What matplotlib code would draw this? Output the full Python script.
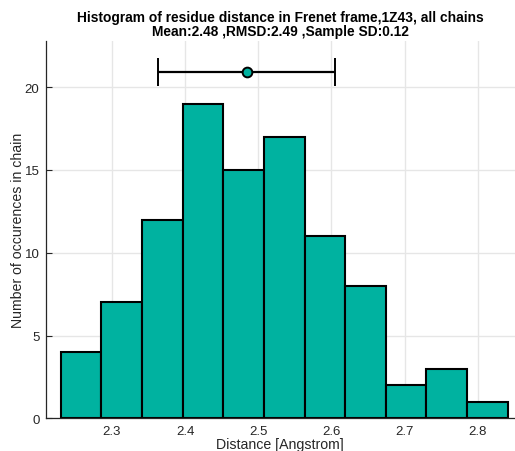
import matplotlib
matplotlib.use('Agg')

import matplotlib.pyplot as plt
import numpy as np

# Histogram of residue distances (Frenet frame, 1Z43)
bin_edges = [2.2300, 2.2856, 2.3411, 2.3967, 2.4522, 2.5078,
             2.5633, 2.6189, 2.6744, 2.7300, 2.7856, 2.8411]
counts = [4, 7, 12, 19, 15, 17, 11, 8, 2, 3, 1]
mean_dist = 2.484
rmsd_dist = 2.49
sample_sd = 0.121
x_ticks = [2.3, 2.4, 2.5, 2.6, 2.7, 2.8]
y_ticks = [0, 5, 10, 15, 20]

BAR_COLOR = "#00b2a0"
TEXT_COLOR = "#262626"

plt.rcParams['font.family'] = ['Liberation Sans', 'DejaVu Sans']

fig = plt.figure(figsize=(5.15, 4.52), dpi=100)
ax = fig.add_axes([0.0887, 0.0723, 0.9113, 0.8354])

edges = np.array(bin_edges)
widths = np.diff(edges)
ax.bar(edges[:-1], counts, width=widths, align='edge',
       color=BAR_COLOR, edgecolor='black', linewidth=1.5, zorder=2)

# Mean +/- sample SD drawn above the tallest bar
y_err = max(counts) * 1.1
ax.errorbar([mean_dist], [y_err], xerr=[sample_sd], fmt='o',
            color='black', ecolor='black', elinewidth=1.6, capsize=10,
            capthick=1.6, markersize=7, markerfacecolor=BAR_COLOR,
            markeredgecolor='black', markeredgewidth=1.4, zorder=3)

ax.set_xlim(2.2095, 2.851)
ax.set_ylim(0, max(counts) * 1.2)
ax.set_xticks(x_ticks)
ax.set_yticks(y_ticks)
ax.grid(True, color='#e6e6e6', linewidth=1.0, zorder=0)
ax.set_axisbelow(True)

for side in ('top', 'right'):
    ax.spines[side].set_visible(False)
for side in ('left', 'bottom'):
    ax.spines[side].set_color(TEXT_COLOR)
    ax.spines[side].set_linewidth(0.9)

ax.tick_params(direction='in', length=4, width=0.8, colors=TEXT_COLOR,
               labelsize=9.5, pad=4.5)

ax.set_xlabel("Distance [Angstrom]", fontsize=10.2, color=TEXT_COLOR,
              labelpad=0)
ax.set_ylabel("Number of occurences in chain", fontsize=10.2,
              color=TEXT_COLOR, labelpad=-0.5)
ax.set_title("Histogram of residue distance in Frenet frame,1Z43, all chains\n"
             f"Mean:{mean_dist:.2f} ,RMSD:{rmsd_dist:.2f} ,Sample SD:{sample_sd:.2f}",
             fontsize=9.9, fontweight='bold', color='black', pad=4,
             linespacing=1.0)

fig.savefig("out.png", dpi=100)
plt.close(fig)
